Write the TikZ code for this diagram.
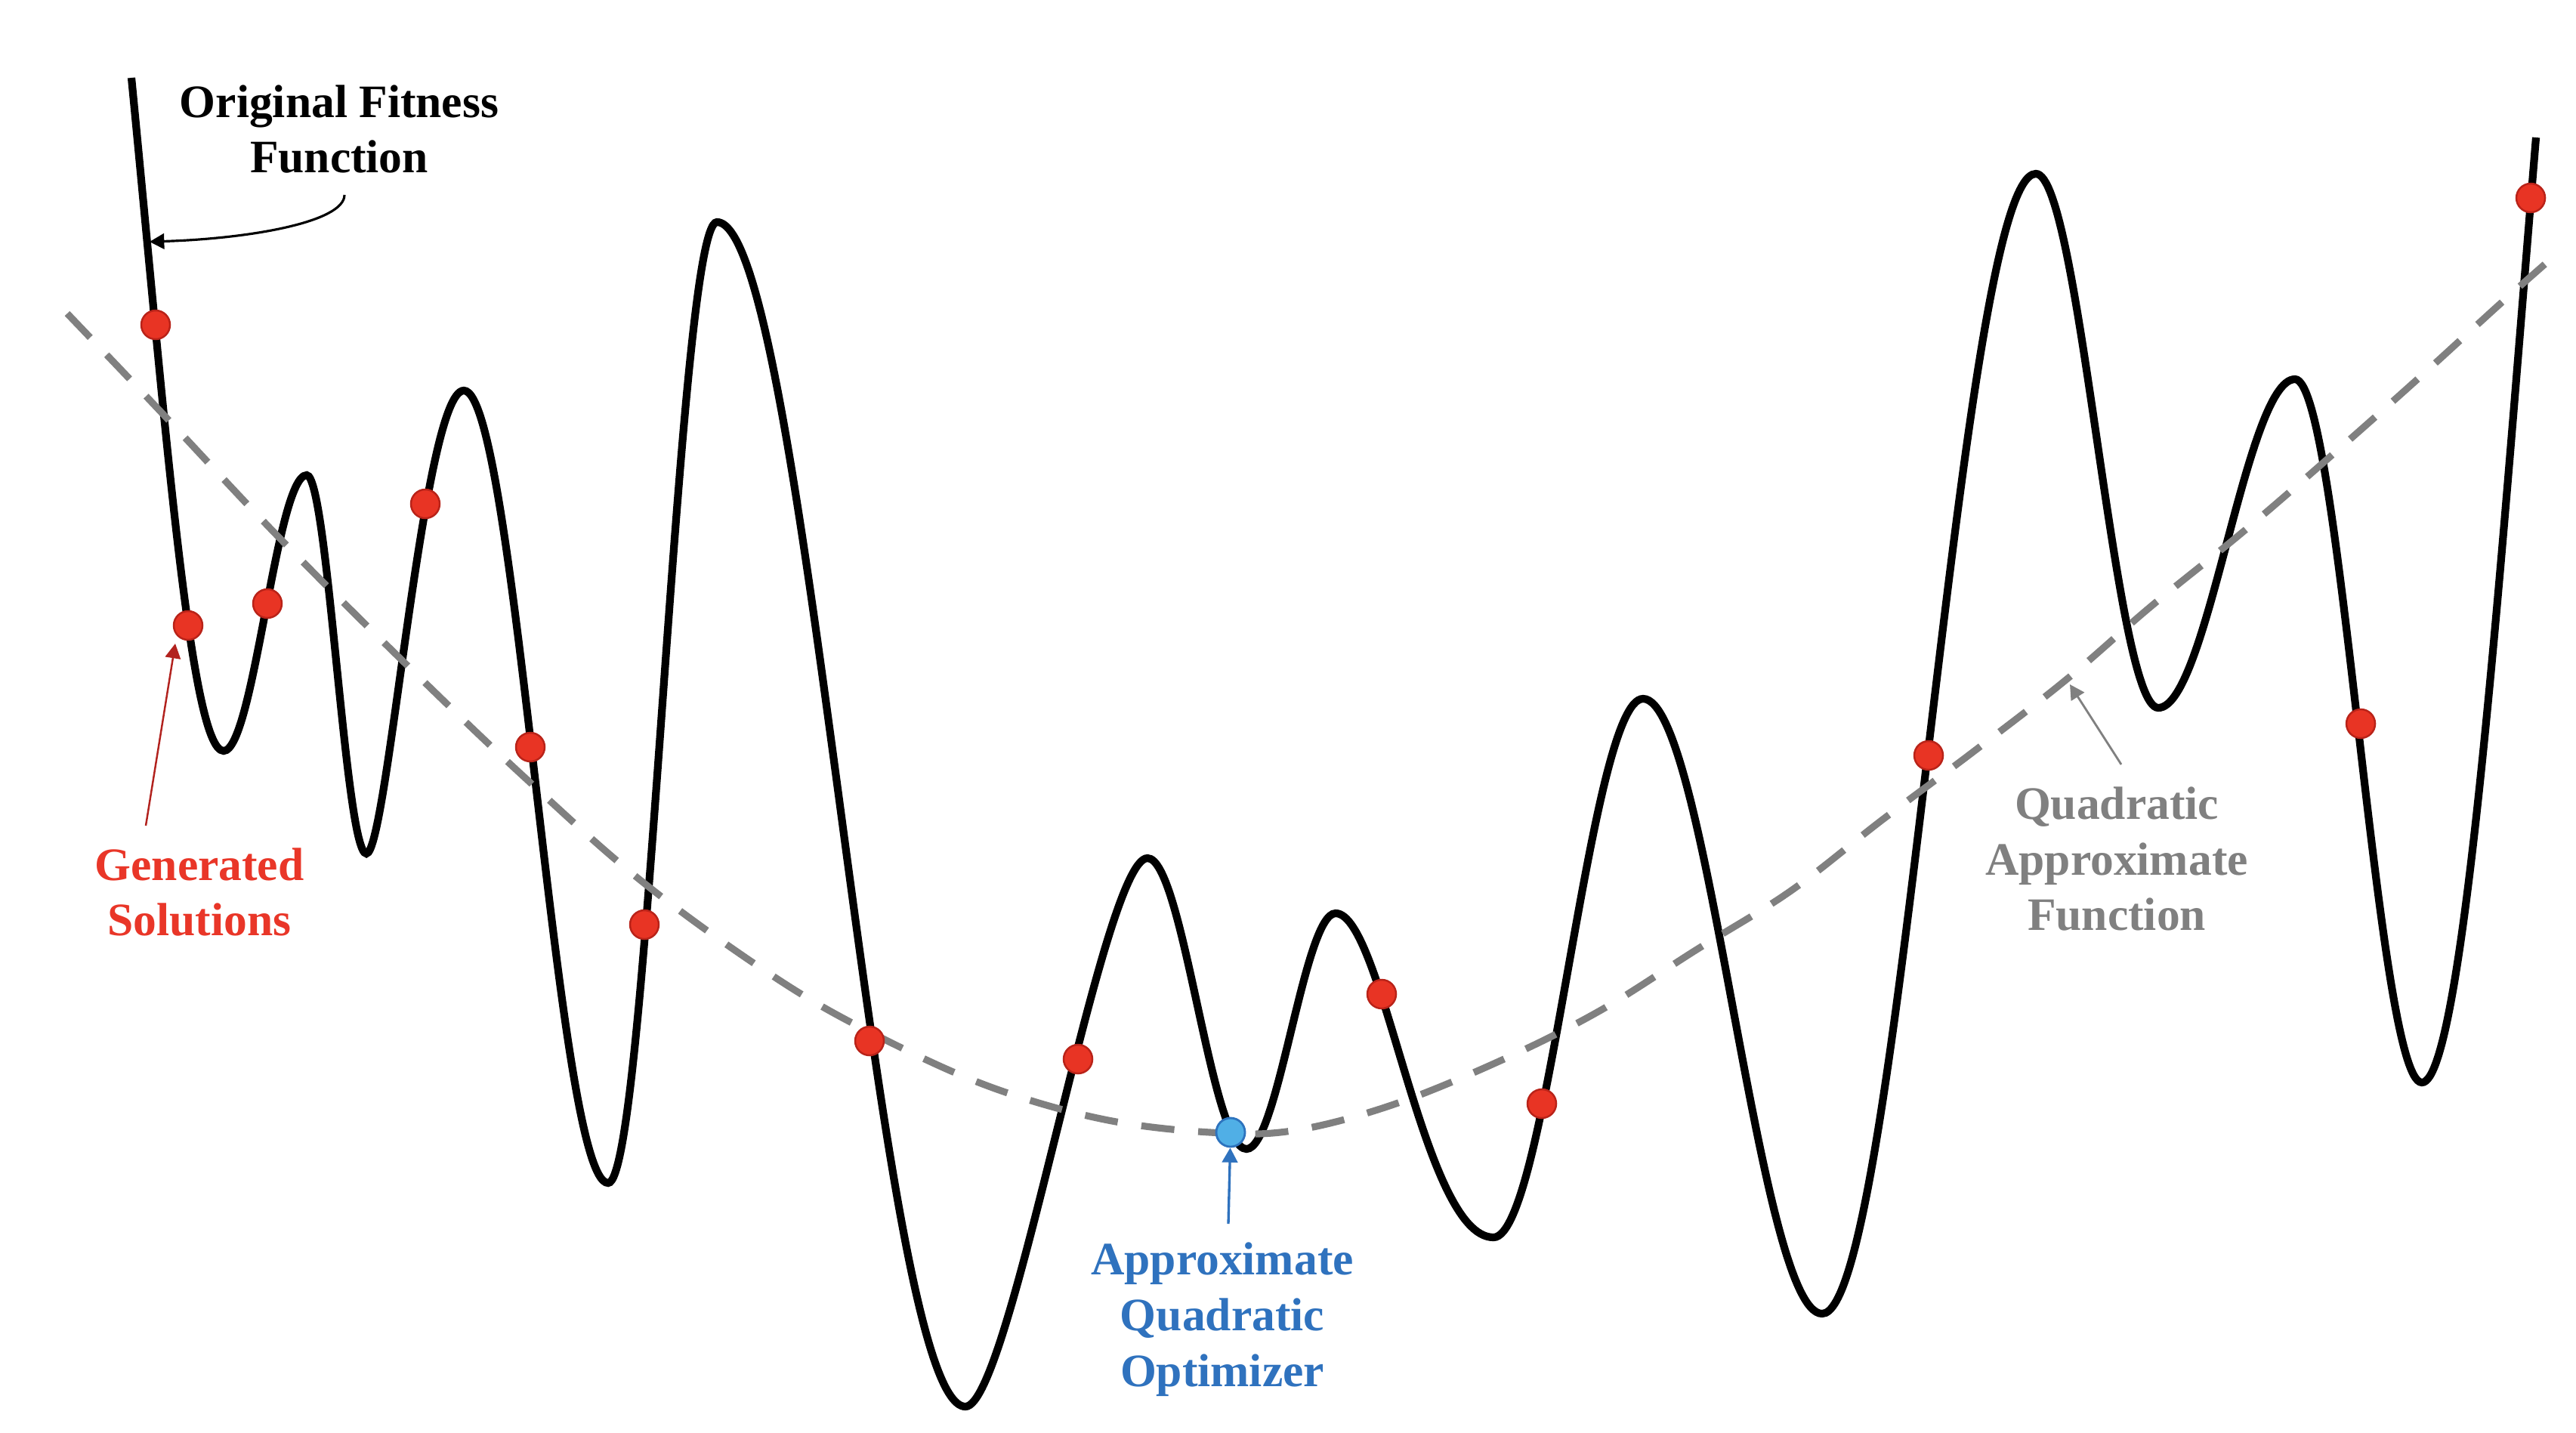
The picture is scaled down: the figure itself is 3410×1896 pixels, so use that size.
\documentclass[tikz,border=0pt]{standalone}
\usepackage{fontspec}
\setmainfont{Liberation Serif}
\usetikzlibrary{arrows.meta}
\definecolor{dotred}{RGB}{232,52,36}
\definecolor{dotredborder}{RGB}{185,35,25}
\definecolor{dotblue}{RGB}{80,175,230}
\definecolor{dotblueborder}{RGB}{45,115,190}
\definecolor{txtred}{RGB}{233,54,40}
\definecolor{arrred}{RGB}{178,34,30}
\definecolor{txtblue}{RGB}{47,114,190}
\definecolor{qgray}{RGB}{128,128,128}
\begin{document}
\begin{tikzpicture}[x=0.01cm,y=-0.01cm,
  fitness/.style={line width=2.9pt, black},
  quad/.style={line width=2.6pt, qgray, dash pattern=on 12.5pt off 9pt},
  reddot/.style={circle, fill=dotred, draw=dotredborder, line width=0.7pt, minimum size=0.38cm, inner sep=0pt},
  bluedot/.style={circle, fill=dotblue, draw=dotblueborder, line width=0.8pt, minimum size=0.38cm, inner sep=0pt},
  lbl/.style={font=\fontsize{17.5pt}{21pt}\selectfont\bfseries, align=center, inner sep=0pt},
  pointer/.style={-{Triangle[length=5.5pt,width=5.8pt]}}
]
\fill[white] (0,0) rectangle (3410,1896);
\useasboundingbox (0,0) rectangle (3410,1896);

% original fitness function
\draw[fitness] (174,103)
  .. controls (218,553) and (252,994) .. (296,994)
  .. controls (336,994) and (366,629) .. (406,629)
  .. controls (434,629) and (457,1130) .. (485,1130)
  .. controls (513,1130) and (560,517) .. (614,517)
  .. controls (683,517) and (736,1566) .. (805,1566)
  .. controls (857,1566) and (897,294) .. (949,294)
  .. controls (1067,294) and (1160,1862) .. (1278,1862)
  .. controls (1338,1862) and (1459,1136) .. (1519,1136)
  .. controls (1566,1136) and (1603,1521) .. (1650,1521)
  .. controls (1692,1521) and (1726,1209) .. (1768,1209)
  .. controls (1831,1209) and (1883,1638) .. (1977,1638)
  .. controls (2048,1638) and (2104,925) .. (2175,925)
  .. controls (2260,925) and (2327,1739) .. (2412,1739)
  .. controls (2514,1739) and (2593,230) .. (2695,230)
  .. controls (2753,230) and (2799,937) .. (2857,937)
  .. controls (2922,937) and (2973,502) .. (3038,502)
  .. controls (3098,502) and (3146,1433) .. (3206,1433)
  .. controls (3262,1433) and (3314,700) .. (3357,182);

% quadratic approximate function
\draw[quad] plot[smooth, tension=0.6] coordinates {
  (89,415) (209,541) (365,707) (525,867) (690,1025) (855,1171)
  (1040,1303) (1181,1381) (1317,1441) (1462,1482) (1602,1499)
  (1710,1497) (1839,1464) (1982,1406) (2116,1339) (2246,1257)
  (2371,1179) (2492,1085) (2615,993) (2736,899) (2847,803)
  (2968,705) (3084,605) (3199,503) (3312,400) (3389,332)};

% generated solutions
\node[reddot] (d1) at (206,430) {};
\node[reddot] (d2) at (249,828) {};
\node[reddot] (d3) at (354,799) {};
\node[reddot] (d4) at (563,667) {};
\node[reddot] (d5) at (702,989) {};
\node[reddot] (d6) at (853,1224) {};
\node[reddot] (d7) at (1151,1378) {};
\node[reddot] (d8) at (1427,1402) {};
\node[reddot] (d9) at (1829,1316) {};
\node[reddot] (d10) at (2041,1461) {};
\node[reddot] (d11) at (2553,1000) {};
\node[reddot] (d12) at (3125,958) {};
\node[reddot] (d13) at (3350,262) {};
\node[bluedot] (bd) at (1629,1499) {};

% labels
\node[lbl] (fit) at (449,171) {Original Fitness\\Function};
\node[lbl, text=txtred] (gen) at (264,1181) {Generated\\Solutions};
\node[lbl, text=txtblue] (aqo) at (1618,1747) {Approximate\\Quadratic\\Optimizer};
\node[lbl, text=qgray] (qaf) at (2802,1137) {Quadratic\\Approximate\\Function};

% pointer arrows
\coordinate (fitS) at (456,258);
\coordinate (fitE) at (198,320);
\draw[pointer, line width=0.9pt, black] (fitS) .. controls (456,294) and (330,316) .. (fitE);

\coordinate (genS) at (193,1093);
\coordinate (genE) at (232,852);
\draw[pointer, line width=0.7pt, arrred] (genS) -- (genE);

\coordinate (aqoS) at (1626,1620);
\draw[pointer, line width=0.95pt, txtblue] (aqoS) -- (bd);

\coordinate (qafS) at (2808,1012);
\coordinate (qafE) at (2740,906);
\draw[pointer, line width=0.8pt, qgray] (qafS) -- (qafE);
\end{tikzpicture}
\end{document}
